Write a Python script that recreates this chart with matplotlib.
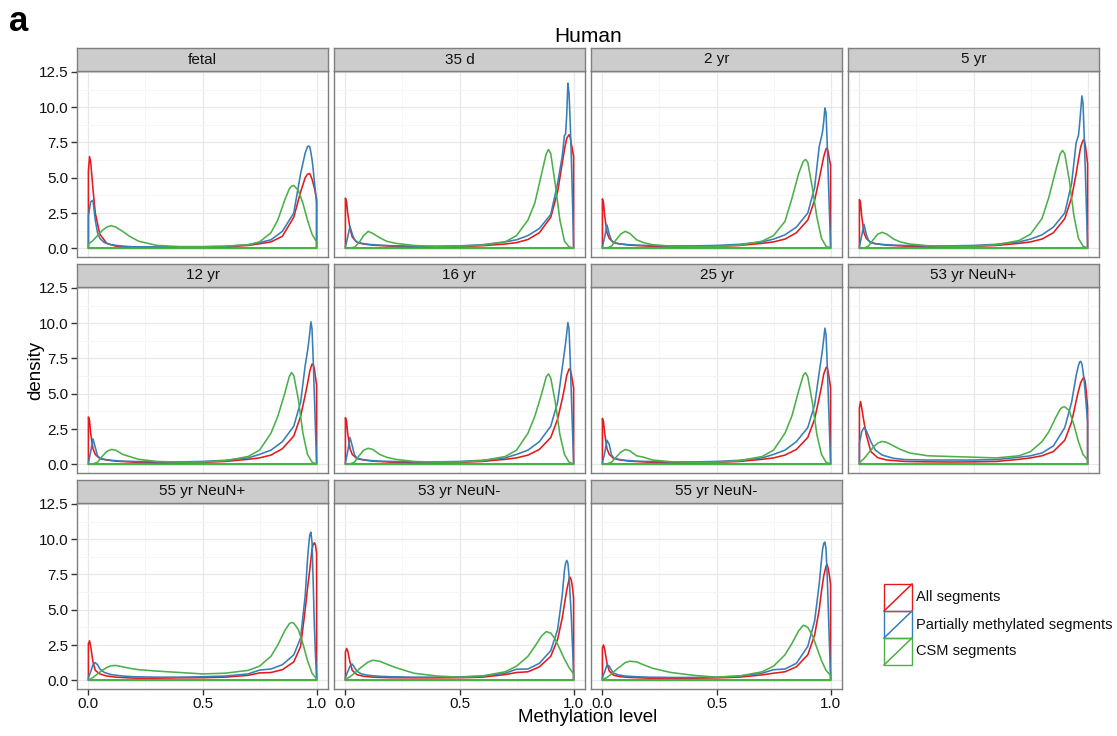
import matplotlib
matplotlib.use("Agg")
import matplotlib.pyplot as plt
from matplotlib.patches import Polygon, Rectangle
from matplotlib.lines import Line2D

plt.rcParams['font.family'] = ['Liberation Sans', 'DejaVu Sans']

# ---------------------------------------------------------------- data
panels = ["fetal", "35 d", "2 yr", "5 yr", "12 yr", "16 yr", "25 yr",
          "53 yr NeuN+", "55 yr NeuN+", "53 yr NeuN-", "55 yr NeuN-"]
series = ["All segments", "Partially methylated segments", "CSM segments"]
colors = ["#E41A1C", "#377EB8", "#4DAF4A"]

# methylation level grids of the density estimates
x_all = [0, 0.005, 0.01, 0.02, 0.03, 0.05, 0.08, 0.12, 0.2, 0.3, 0.4, 0.5,
         0.6, 0.7, 0.75, 0.8, 0.85, 0.9, 0.93, 0.95, 0.96, 0.97, 0.98,
         0.985, 0.99, 0.995, 1.0]
x_pm = [0, 0.01, 0.02, 0.03, 0.04, 0.05, 0.07, 0.1, 0.15, 0.2, 0.3, 0.4,
        0.5, 0.6, 0.7, 0.75, 0.8, 0.85, 0.9, 0.93, 0.95, 0.96, 0.965, 0.97,
        0.975, 0.98, 0.985, 0.99, 0.995, 1.0]
x_csm = [0, 0.02, 0.04, 0.06, 0.08, 0.1, 0.12, 0.15, 0.18, 0.22, 0.3, 0.4,
         0.5, 0.6, 0.7, 0.75, 0.8, 0.83, 0.86, 0.88, 0.89, 0.9, 0.92, 0.94,
         0.96, 0.98, 1.0]

# density of all segments, one row per sample
all_density = [
    [5.5, 6.5, 6.1, 4.2, 2.5, 1.0, 0.35, 0.15, 0.08, 0.06, 0.06, 0.07, 0.1, 0.2, 0.32, 0.45, 0.85, 2.2, 4.0, 5.0, 5.25, 5.3, 4.9, 4.6, 4.3, 3.9, 3.5],
    [3.55, 3.3, 2.5, 1.4, 0.8, 0.42, 0.3, 0.22, 0.15, 0.1, 0.1, 0.12, 0.18, 0.3, 0.4, 0.62, 1.1, 2.2, 4.0, 6.0, 7.0, 7.8, 8.05, 7.9, 7.4, 7.0, 6.5],
    [3.5, 3.2, 2.3, 1.1, 0.7, 0.4, 0.3, 0.22, 0.15, 0.12, 0.12, 0.14, 0.2, 0.35, 0.45, 0.65, 1.1, 2.0, 3.4, 4.9, 5.7, 6.5, 7.05, 7.1, 6.8, 6.3, 5.9],
    [3.45, 3.2, 2.3, 1.1, 0.7, 0.4, 0.3, 0.22, 0.15, 0.12, 0.12, 0.14, 0.2, 0.35, 0.45, 0.65, 1.1, 2.1, 3.6, 5.3, 6.3, 7.2, 7.65, 7.7, 7.3, 6.7, 6.0],
    [3.35, 3.1, 2.2, 1.1, 0.7, 0.4, 0.3, 0.22, 0.15, 0.12, 0.12, 0.14, 0.2, 0.35, 0.45, 0.65, 1.1, 2.0, 3.4, 4.9, 5.7, 6.6, 7.1, 7.1, 6.8, 6.2, 5.6],
    [3.3, 3.05, 2.2, 1.1, 0.7, 0.4, 0.3, 0.22, 0.15, 0.12, 0.12, 0.14, 0.2, 0.35, 0.45, 0.65, 1.05, 1.9, 3.2, 4.6, 5.4, 6.3, 6.75, 6.75, 6.4, 5.9, 5.4],
    [3.25, 3.0, 2.2, 1.1, 0.7, 0.4, 0.3, 0.22, 0.15, 0.12, 0.12, 0.14, 0.2, 0.35, 0.45, 0.65, 1.05, 1.9, 3.2, 4.7, 5.5, 6.4, 6.85, 6.9, 6.5, 6.0, 5.4],
    [4.0, 4.45, 4.0, 3.0, 2.1, 0.9, 0.47, 0.3, 0.2, 0.17, 0.16, 0.17, 0.2, 0.35, 0.45, 0.6, 0.9, 1.7, 3.0, 4.5, 5.2, 5.8, 6.1, 6.15, 5.8, 5.0, 4.0],
    [2.6, 2.8, 2.4, 1.3, 0.7, 0.45, 0.3, 0.22, 0.15, 0.15, 0.17, 0.18, 0.22, 0.35, 0.52, 0.55, 0.75, 1.3, 2.4, 5.0, 6.5, 7.8, 9.3, 9.6, 9.75, 9.6, 9.0],
    [2.0, 2.25, 2.1, 1.3, 0.7, 0.4, 0.28, 0.22, 0.18, 0.17, 0.17, 0.18, 0.22, 0.4, 0.55, 0.6, 0.95, 1.7, 2.9, 4.4, 5.4, 6.4, 7.15, 7.3, 7.1, 6.6, 5.8],
    [2.3, 2.5, 2.2, 1.2, 0.65, 0.35, 0.25, 0.2, 0.15, 0.15, 0.15, 0.17, 0.22, 0.38, 0.5, 0.6, 0.95, 1.8, 3.2, 5.0, 6.3, 7.4, 8.1, 8.2, 7.9, 7.4, 6.8],
]

# density of partially methylated segments
pm_density = [
    [2.3, 3.3, 3.4, 2.0, 1.1, 0.7, 0.4, 0.25, 0.15, 0.1, 0.1, 0.1, 0.1, 0.13, 0.25, 0.4, 0.6, 1.2, 2.5, 5.3, 6.75, 7.2, 7.25, 7.2, 6.8, 6.3, 5.6, 4.8, 4.0, 3.2],
    [0.1, 0.8, 1.55, 1.0, 0.6, 0.45, 0.35, 0.28, 0.22, 0.18, 0.15, 0.15, 0.17, 0.25, 0.45, 0.6, 0.9, 1.4, 2.4, 4.6, 6.5, 8.0, 8.1, 9.5, 11.7, 11.0, 9.0, 6.5, 3.5, 0.2],
    [0.1, 0.8, 1.65, 1.0, 0.55, 0.4, 0.32, 0.27, 0.22, 0.2, 0.17, 0.17, 0.2, 0.28, 0.45, 0.65, 0.95, 1.5, 2.5, 4.3, 7.2, 7.9, 8.3, 9.0, 9.95, 9.6, 7.5, 5.0, 2.5, 0.2],
    [0.1, 0.9, 1.7, 1.0, 0.55, 0.4, 0.32, 0.27, 0.22, 0.2, 0.17, 0.17, 0.2, 0.28, 0.45, 0.65, 0.95, 1.5, 2.5, 4.6, 7.5, 8.0, 8.8, 9.8, 10.8, 10.3, 8.0, 5.5, 2.8, 0.2],
    [0.1, 0.9, 1.8, 1.2, 0.6, 0.45, 0.35, 0.28, 0.22, 0.2, 0.17, 0.17, 0.2, 0.28, 0.45, 0.7, 1.0, 1.6, 2.7, 4.4, 7.0, 8.0, 8.6, 9.3, 10.1, 9.6, 7.5, 5.0, 2.5, 0.2],
    [0.1, 0.9, 1.9, 1.3, 0.65, 0.45, 0.35, 0.28, 0.22, 0.2, 0.17, 0.17, 0.2, 0.28, 0.45, 0.7, 1.0, 1.6, 2.7, 4.4, 6.8, 8.0, 8.6, 9.3, 10.05, 9.6, 7.5, 5.0, 2.5, 0.2],
    [0.1, 0.8, 1.7, 1.4, 0.65, 0.45, 0.35, 0.28, 0.22, 0.2, 0.17, 0.17, 0.2, 0.28, 0.45, 0.7, 1.0, 1.6, 2.6, 4.2, 6.5, 7.6, 8.2, 8.9, 9.65, 9.2, 7.2, 4.8, 2.4, 0.2],
    [1.5, 2.3, 2.6, 2.4, 2.0, 1.6, 1.0, 0.65, 0.42, 0.33, 0.3, 0.3, 0.3, 0.33, 0.5, 0.6, 0.8, 1.3, 2.6, 4.4, 6.3, 7.0, 7.25, 7.3, 7.1, 6.6, 5.9, 5.0, 4.0, 3.0],
    [0.2, 0.6, 1.1, 1.25, 1.1, 0.8, 0.55, 0.4, 0.3, 0.25, 0.22, 0.22, 0.25, 0.3, 0.45, 0.72, 0.8, 1.1, 1.8, 3.0, 6.0, 8.5, 9.5, 10.3, 10.5, 9.8, 7.0, 4.0, 1.8, 0.3],
    [0.2, 0.6, 1.0, 1.15, 0.9, 0.65, 0.45, 0.35, 0.28, 0.25, 0.22, 0.22, 0.24, 0.3, 0.5, 0.78, 0.8, 1.2, 2.1, 3.6, 6.0, 7.8, 8.3, 8.5, 8.3, 7.4, 6.0, 4.5, 2.5, 0.5],
    [0.2, 0.6, 1.1, 1.0, 0.7, 0.5, 0.38, 0.3, 0.25, 0.22, 0.2, 0.2, 0.22, 0.3, 0.5, 0.75, 0.8, 1.2, 2.4, 4.2, 6.8, 8.5, 9.3, 9.7, 9.8, 9.3, 7.5, 5.0, 2.5, 0.3],
]

# density of CSM segments
csm_density = [
    [0.3, 0.55, 0.9, 1.25, 1.5, 1.6, 1.5, 1.2, 0.85, 0.5, 0.2, 0.12, 0.12, 0.15, 0.25, 0.45, 1.1, 2.0, 3.4, 4.2, 4.4, 4.45, 4.1, 3.2, 2.0, 1.0, 0.45],
    [0.0, 0.02, 0.08, 0.4, 0.9, 1.2, 1.05, 0.75, 0.5, 0.35, 0.2, 0.12, 0.15, 0.22, 0.45, 0.9, 2.0, 3.2, 5.3, 6.7, 7.0, 6.7, 4.5, 2.0, 0.5, 0.1, 0.02],
    [0.0, 0.02, 0.15, 0.6, 1.0, 1.2, 1.05, 0.6, 0.4, 0.25, 0.15, 0.12, 0.13, 0.22, 0.5, 0.9, 1.9, 3.5, 5.3, 6.15, 6.3, 6.1, 4.3, 2.2, 0.7, 0.15, 0.02],
    [0.0, 0.02, 0.15, 0.6, 1.0, 1.13, 1.0, 0.65, 0.45, 0.3, 0.18, 0.13, 0.14, 0.25, 0.55, 1.0, 2.1, 3.6, 5.5, 6.7, 6.94, 6.7, 4.8, 2.3, 0.7, 0.15, 0.02],
    [0.0, 0.02, 0.15, 0.55, 0.9, 1.05, 1.0, 0.7, 0.55, 0.35, 0.2, 0.15, 0.16, 0.25, 0.55, 1.0, 2.2, 3.4, 5.0, 6.2, 6.5, 6.3, 4.6, 2.2, 0.7, 0.15, 0.02],
    [0.0, 0.02, 0.15, 0.6, 1.0, 1.13, 1.05, 0.7, 0.5, 0.35, 0.2, 0.15, 0.16, 0.25, 0.55, 1.0, 2.2, 3.4, 5.0, 6.2, 6.4, 6.1, 4.4, 2.1, 0.7, 0.15, 0.02],
    [0.0, 0.02, 0.15, 0.5, 0.85, 1.05, 0.95, 0.6, 0.5, 0.3, 0.18, 0.14, 0.15, 0.25, 0.55, 1.0, 2.2, 3.4, 5.2, 6.3, 6.5, 6.2, 4.4, 2.1, 0.7, 0.15, 0.02],
    [0.1, 0.4, 0.8, 1.2, 1.5, 1.62, 1.55, 1.3, 1.05, 0.8, 0.6, 0.55, 0.5, 0.45, 0.6, 0.9, 1.6, 2.3, 3.3, 3.9, 4.05, 4.07, 3.8, 2.8, 1.6, 0.7, 0.3],
    [0.0, 0.2, 0.45, 0.7, 0.9, 1.03, 1.05, 0.95, 0.85, 0.75, 0.65, 0.55, 0.45, 0.5, 0.7, 1.0, 1.7, 2.5, 3.5, 4.0, 4.1, 4.05, 3.6, 2.6, 1.4, 0.5, 0.1],
    [0.05, 0.25, 0.5, 0.8, 1.05, 1.3, 1.42, 1.35, 1.15, 0.9, 0.5, 0.3, 0.22, 0.3, 0.6, 1.0, 1.7, 2.4, 3.15, 3.45, 3.4, 3.35, 2.9, 2.2, 1.5, 0.9, 0.45],
    [0.05, 0.2, 0.45, 0.75, 1.0, 1.25, 1.35, 1.3, 1.1, 0.85, 0.55, 0.35, 0.22, 0.3, 0.6, 1.0, 1.8, 2.6, 3.5, 3.9, 3.85, 3.75, 3.2, 2.3, 1.4, 0.7, 0.35],
]

x_ticks = [0.0, 0.5, 1.0]
x_tick_labels = ["0.0", "0.5", "1.0"]
y_ticks = [0.0, 2.5, 5.0, 7.5, 10.0, 12.5]
y_tick_labels = ["0.0", "2.5", "5.0", "7.5", "10.0", "12.5"]

# ---------------------------------------------------------------- layout
W, H = 1117, 736
fig = plt.figure(figsize=(W / 100, H / 100), dpi=100)
fig.patch.set_facecolor("white")

col_left = [77, 334, 591, 848]
panel_w = 251
strip_top = [48, 264, 480]
strip_h = 23
panel_h = 186
border = "#7F7F7F"


def fig_rect(left, top, width, height):
    return [left / W, 1 - (top + height) / H, width / W, height / H]


grids = [x_all, x_pm, x_csm]
values = [all_density, pm_density, csm_density]

for i, name in enumerate(panels):
    r, c = divmod(i, 4)
    top = strip_top[r] + strip_h
    ax = fig.add_axes(fig_rect(col_left[c], top, panel_w, panel_h))
    ax.set_xlim(-0.05, 1.05)
    ax.set_ylim(-0.62, 12.57)
    ax.set_facecolor("white")
    ax.set_axisbelow(True)
    ax.set_xticks(x_ticks)
    ax.set_xticks([0.25, 0.75], minor=True)
    ax.set_yticks(y_ticks)
    ax.set_yticks([1.25, 3.75, 6.25, 8.75, 11.25], minor=True)
    ax.grid(which="major", color="#E8E8E8", lw=0.9)
    ax.grid(which="minor", color="#F6F6F6", lw=0.7)
    ax.tick_params(which="minor", length=0)
    for sp in ax.spines.values():
        sp.set_color(border)
        sp.set_linewidth(1.0)

    if c == 0:
        ax.set_yticklabels(y_tick_labels)
        ax.tick_params(axis="y", which="major", direction="out", length=4,
                       width=1.0, color="#333333", pad=2, labelsize=11,
                       labelcolor="#111111")
    else:
        ax.tick_params(axis="y", which="major", length=0, labelleft=False)

    if i >= 8:
        ax.set_xticklabels(x_tick_labels)
        ax.tick_params(axis="x", which="major", direction="out", length=4,
                       width=1.0, color="#333333", pad=2, labelsize=11,
                       labelcolor="#111111")
    else:
        ax.tick_params(axis="x", which="major", length=0, labelbottom=False)

    # density outlines: curve, then back along the baseline
    for xs, ys_all, col in zip(grids, values, colors):
        ys = ys_all[i]
        verts = list(zip(xs, ys)) + [(xs[-1], 0.0), (xs[0], 0.0)]
        ax.add_patch(Polygon(verts, closed=True, fill=False, edgecolor=col,
                             lw=1.15, joinstyle="round"))

    # facet strip
    sax = fig.add_axes(fig_rect(col_left[c], strip_top[r], panel_w, strip_h))
    sax.set_facecolor("#CCCCCC")
    sax.set_xticks([])
    sax.set_yticks([])
    for sp in sax.spines.values():
        sp.set_color(border)
        sp.set_linewidth(1.0)
    sax.text(0.5, 0.5, name, ha="center", va="center", fontsize=11,
             color="#111111", transform=sax.transAxes)

# ---------------------------------------------------------------- texts
fig.text(588 / W, 1 - 36 / H, "Human", ha="center", va="center", fontsize=15)
fig.text(588 / W, 1 - 718 / H, "Methylation level", ha="center", va="center",
         fontsize=13.5)
fig.text(36 / W, 1 - 370 / H, "density", ha="center", va="center",
         rotation=90, fontsize=13.5)
fig.text(9 / W, 1 - 31 / H, "a", ha="left", va="baseline", fontsize=25,
         fontweight="bold")

# ---------------------------------------------------------------- legend
key_left, key_top, key_w, key_h = 884, 584, 28, 27
for k, (label, col) in enumerate(zip(series, colors)):
    ktop = key_top + k * key_h
    x0, y0 = key_left / W, 1 - (ktop + key_h) / H
    fig.add_artist(Rectangle((x0, y0), key_w / W, key_h / H,
                             transform=fig.transFigure, fill=False,
                             edgecolor=col, lw=1.0))
    fig.add_artist(Line2D([x0, x0 + key_w / W], [y0, y0 + key_h / H],
                          transform=fig.transFigure, color=col, lw=1.1))
    fig.text((key_left + key_w + 4) / W, 1 - (ktop + key_h / 2) / H, label,
             ha="left", va="center", fontsize=10.5, color="#111111")

fig.savefig("out.png", dpi=100)
